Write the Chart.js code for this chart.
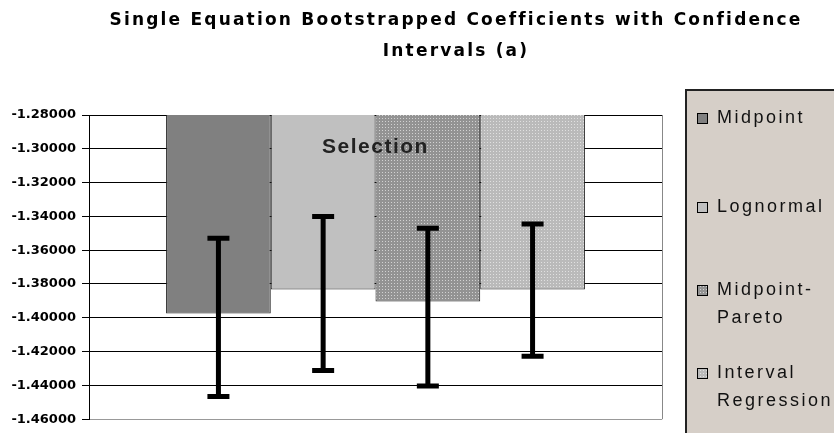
<!DOCTYPE html>
<html>
<head>
<meta charset="utf-8">
<script src="https://cdn.jsdelivr.net/npm/chart.js@4/dist/chart.umd.min.js"></script>
<style>
  body { margin: 0; background: #fff; }
  #box { width: 834px; height: 433px; position: relative; }
</style>
</head>
<body>
<div id="box"><canvas id="myChart"></canvas></div>
<script>
// données
const titre = ['Single Equation Bootstrapped Coefficients with Confidence', 'Intervals (a)'];
const categories = ['Selection'];
const series = ['Midpoint', 'Lognormal', 'Midpoint-Pareto', 'Interval Regression'];
const valeurs = [-1.3975, -1.3832, -1.3903, -1.3832];
const bornesHautes = [-1.3530, -1.3400, -1.3470, -1.3445];
const bornesBasses = [-1.4465, -1.4312, -1.4403, -1.4228];
const ticksY = [-1.46, -1.28, 0.02];

// motif pointillé pour les barres texturées
const motif = (fond, point) => {
    let c = document.createElement('canvas');
    c.width = 3;
    c.height = 3;
    let cx = c.getContext('2d');
    cx.fillStyle = fond;
    cx.fillRect(0, 0, 3, 3);
    cx.fillStyle = point;
    cx.fillRect(1, 1, 1, 1);
    return cx.createPattern(c, 'repeat');
}

const couleurs = ['#808080', '#c0c0c0', motif('#939393', '#d2d2d2'), motif('#bababa', '#e0e0e0')];

// barres d'erreur + textes
const dessins = {
    id: 'dessins',
    afterDatasetsDraw(chart) {
        const ctx = chart.ctx;
        const y = chart.scales.y;
        ctx.save();
        ctx.strokeStyle = '#000';
        ctx.lineWidth = 5;
        chart.data.datasets.forEach((ds, i) => {
            let bar = chart.getDatasetMeta(i).data[0];
            let yh = y.getPixelForValue(bornesHautes[i]);
            let yb = y.getPixelForValue(bornesBasses[i]);
            ctx.beginPath();
            ctx.moveTo(bar.x, yh);
            ctx.lineTo(bar.x, yb);
            ctx.moveTo(bar.x - 11, yh);
            ctx.lineTo(bar.x + 11, yh);
            ctx.moveTo(bar.x - 11, yb);
            ctx.lineTo(bar.x + 11, yb);
            ctx.stroke();
        });
        // étiquette de catégorie dans le graphique
        const x = chart.scales.x;
        ctx.fillStyle = '#222';
        ctx.font = 'bold 21px "Liberation Sans", Arial, sans-serif';
        ctx.letterSpacing = '1.5px';
        ctx.textAlign = 'center';
        ctx.textBaseline = 'middle';
        ctx.fillText(categories[0], x.getPixelForValue(0), chart.chartArea.top + 32);
        // bord droit
        ctx.letterSpacing = '0px';
        ctx.strokeStyle = '#888';
        ctx.lineWidth = 1;
        ctx.beginPath();
        ctx.moveTo(chart.chartArea.right + 0.5, chart.chartArea.top);
        ctx.lineTo(chart.chartArea.right + 0.5, chart.chartArea.bottom);
        ctx.stroke();
        ctx.restore();
    },
    afterDraw(chart) {
        const ctx = chart.ctx;
        ctx.save();
        // titre
        ctx.fillStyle = '#000';
        ctx.font = 'bold 17px "DejaVu Sans", sans-serif';
        ctx.letterSpacing = '2.2px';
        ctx.textAlign = 'center';
        ctx.textBaseline = 'middle';
        ctx.fillText(titre[0], 456, 21);
        ctx.fillText(titre[1], 456, 52);
        // légende
        ctx.letterSpacing = '0px';
        ctx.fillStyle = '#d6cfc8';
        ctx.fillRect(686, 90, 160, 360);
        ctx.strokeStyle = '#222';
        ctx.lineWidth = 2;
        ctx.strokeRect(686, 90, 160, 360);
        const posY = [118, 207, 290, 373];
        ctx.font = '18px "Liberation Sans", Arial, sans-serif';
        ctx.letterSpacing = '2.5px';
        ctx.textAlign = 'left';
        chart.data.datasets.forEach((ds, i) => {
            ctx.fillStyle = ds.backgroundColor;
            ctx.fillRect(697, posY[i] - 5, 11, 11);
            ctx.strokeStyle = '#000';
            ctx.lineWidth = 1;
            ctx.strokeRect(697.5, posY[i] - 4.5, 10, 10);
            ctx.fillStyle = '#111';
            let lignes = ds.label.replace('-', '-\n').replace(' ', '\n').split('\n');
            lignes.forEach((l, j) => ctx.fillText(l, 717, posY[i] + j * 28));
        });
        ctx.restore();
    }
};

const chartData = {
    labels: categories,
    datasets: series.map((nom, i) => ({
        label: nom,
        data: [valeurs[i]],
        backgroundColor: couleurs[i],
        borderColor: '#222',
        borderWidth: 1,
        borderSkipped: false
    }))
};

const config = {
    type: 'bar',
    data: chartData,
    options: {
        responsive: true,
        maintainAspectRatio: false,
        animation: false,
        categoryPercentage: 0.731,
        barPercentage: 1,
        layout: { padding: { top: 115, right: 172, bottom: 10, left: 0 } },
        plugins: {
            legend: { display: false },
            title: { display: false },
            tooltip: { enabled: false }
        },
        scales: {
            x: { display: false },
            y: {
                min: ticksY[0],
                max: ticksY[1],
                afterFit: s => { s.width = 89; },
                ticks: {
                    stepSize: ticksY[2],
                    padding: 6,
                    color: '#000',
                    font: { family: 'DejaVu Sans', size: 13, weight: 'bold' },
                    callback: v => v.toFixed(5)
                },
                grid: {
                    color: c => (c.tick && c.tick.value <= ticksY[0] + 1e-9) ? '#999' : '#000',
                    tickLength: 7,
                    tickColor: '#000'
                },
                border: { color: '#000', width: 1 }
            }
        }
    },
    plugins: [dessins]
};

var ctx1 = document.getElementById('myChart').getContext('2d');
var myChart = new Chart(ctx1, config);
</script>
</body>
</html>
